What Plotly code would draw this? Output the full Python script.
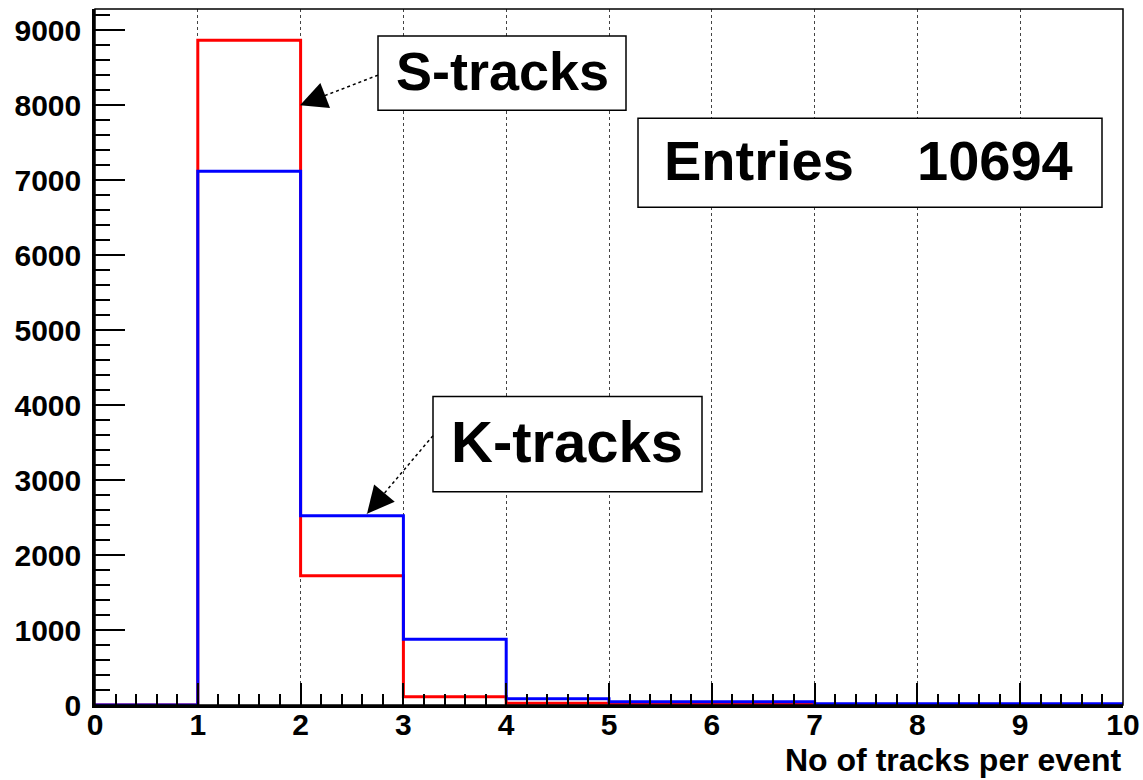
import plotly.graph_objects as go

# ---- data ----
bin_edges = [0, 1, 2, 3, 4, 5, 6, 7, 8, 9, 10]
s_tracks = [0, 8865, 1722, 110, 25, 12, 12, 3, 2, 1]
k_tracks = [0, 7116, 2523, 877, 85, 45, 45, 18, 18, 18]
x_ticks = [0, 1, 2, 3, 4, 5, 6, 7, 8, 9, 10]
y_ticks = [0, 1000, 2000, 3000, 4000, 5000, 6000, 7000, 8000, 9000]
entries = 10694
x_title = "No of tracks per event"

FONT = "Liberation Sans, Arial, Helvetica, sans-serif"

def step(vals):
    return bin_edges, list(vals) + [vals[-1]]

fig = go.Figure()
xr, yr = step(s_tracks)
fig.add_trace(go.Scatter(x=xr, y=yr, mode="lines", line=dict(color="#ff0000", width=3, shape="hv"),
                         showlegend=False, hoverinfo="skip"))
xb, yb = step(k_tracks)
fig.add_trace(go.Scatter(x=xb, y=yb, mode="lines", line=dict(color="#0000ff", width=3, shape="hv"),
                         showlegend=False, hoverinfo="skip"))

tickfont = dict(family=FONT, size=30, color="black", weight="bold")

fig.update_layout(
    width=1143, height=780,
    margin=dict(l=95, r=20, t=9, b=75),
    paper_bgcolor="white", plot_bgcolor="white",
    xaxis=dict(range=[0, 10], tickvals=x_ticks, ticks="inside", ticklen=22, tickwidth=2,
               tickcolor="black", showline=True, linewidth=2.5, linecolor="black",
               showgrid=True, gridcolor="#444444", gridwidth=1, griddash="dot",
               zeroline=False, tickfont=tickfont, ticklabelstandoff=-9, automargin=False,
               minor=dict(ticks="inside", ticklen=11, tickwidth=2, tickcolor="black",
                          dtick=0.2, showgrid=False)),
    yaxis=dict(range=[0, 9280], tickvals=y_ticks, ticks="inside", ticklen=30, tickwidth=2,
               tickcolor="black", showline=True, linewidth=2.5, linecolor="black",
               showgrid=False, zeroline=False, tickfont=tickfont, ticklabelstandoff=5,
               automargin=False,
               minor=dict(ticks="inside", ticklen=15, tickwidth=2, tickcolor="black",
                          dtick=200, showgrid=False)),
)

# frame (top/right)
fig.add_shape(type="rect", xref="paper", yref="paper", x0=0, x1=1, y0=0, y1=1,
              line=dict(color="black", width=1.5), layer="above")

def px2x(px):
    return (px - 95) / 102.8

def px2y(py):
    return (705 - py) / 74.9 * 1000

# label boxes
def box(x0, y0, x1, y1):
    fig.add_shape(type="rect", x0=px2x(x0), x1=px2x(x1), y0=px2y(y1), y1=px2y(y0),
                  line=dict(color="black", width=1.5), fillcolor="white", layer="above")

box(378, 37, 626, 111)
box(433, 397, 702, 492)
box(638, 119, 1102, 208)

fig.add_annotation(x=px2x(502), y=px2y(72), text="S-tracks", showarrow=False,
                   font=dict(family=FONT, size=54, color="black", weight="bold"))
fig.add_annotation(x=px2x(567), y=px2y(442), text="K-tracks", showarrow=False,
                   font=dict(family=FONT, size=58, color="black", weight="bold"))
fig.add_annotation(x=px2x(662), y=px2y(161), text="Entries", showarrow=False, xanchor="left",
                   font=dict(family=FONT, size=56, color="black", weight="bold"))
fig.add_annotation(x=px2x(1075), y=px2y(161), text=str(entries), showarrow=False, xanchor="right",
                   font=dict(family=FONT, size=56, color="black", weight="bold"))

# arrows: dashed line + filled head
def arrow(tx, ty, hx, hy):
    fig.add_shape(type="line", x0=px2x(tx), y0=px2y(ty), x1=px2x(hx), y1=px2y(hy),
                  line=dict(color="black", width=1.5, dash="dot"), layer="above")
    dx, dy = tx - hx, ty - hy
    L = (dx * dx + dy * dy) ** 0.5
    fig.add_annotation(x=px2x(hx), y=px2y(hy), ax=dx / L * 28, ay=dy / L * 28,
                       text="", showarrow=True, arrowhead=2, arrowsize=3.6, arrowwidth=1.5,
                       arrowcolor="black")

arrow(378, 76, 300, 106)
arrow(433, 436, 367, 514)

fig.add_annotation(xref="paper", yref="paper", x=(1123 - 95) / 1028, y=-(760 - 705) / 696,
                   xanchor="right", yanchor="middle", text=x_title, showarrow=False,
                   font=dict(family=FONT, size=32, color="black", weight="bold"))

fig.write_html("out.html", post_script="document.body.style.margin='0';",
               config={"displayModeBar": False})
